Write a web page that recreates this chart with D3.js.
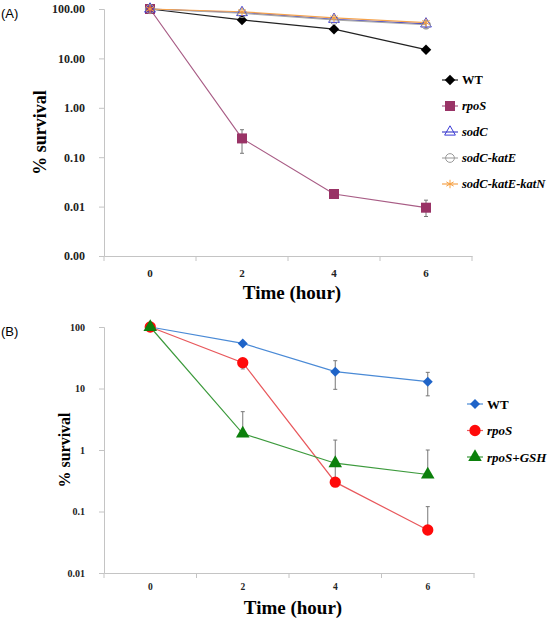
<!DOCTYPE html>
<html>
<head>
<meta charset="utf-8">
<script src="https://cdn.jsdelivr.net/npm/d3@7"></script>
<style>
  body { margin: 0; background: #fff; }
  svg { display: block; }
  text { font-family: "Liberation Serif", "Times New Roman", serif; font-weight: bold; }
  .panel-tag { font-family: "Liberation Sans", Arial, sans-serif; font-weight: normal; }
</style>
</head>
<body>
<svg id="chart" width="558" height="635"></svg>
<script>
// time points (hours), shared by both panels
var hours = ["0", "2", "4", "6"];

// panel A: % survival
var aNames = ["WT", "rpoS", "sodC", "sodC-katE", "sodC-katE-katN"];
var aWT   = [100, 60, 39, 15];
var aRpoS = [100, 0.24, 0.018, 0.0095];
var aSodC = [100, 85, 62, 50];
var aKatE = [100, 82, 60, 48];
var aKatN = [100, 88, 66, 53];
// error bars (low / high), same value = no bar
var aRpoSLo = [100, 0.12, 0.018, 0.0063];
var aRpoSHi = [100, 0.36, 0.018, 0.0135];
var aSodCLo = [100, 85, 62, 41];
var aSodCHi = [100, 85, 62, 58];
var aTicks  = [0.001, 0.01, 0.1, 1, 10, 100];

// panel B: % survival
var bNames = ["WT", "rpoS", "rpoS+GSH"];
var bWT   = [100, 54, 18.8, 12.9];
var bRpoS = [100, 26.3, 0.30, 0.050];
var bGSH  = [100, 1.85, 0.61, 0.40];
var bWTLo   = [100, 54, 9.7, 7.6];
var bWTHi   = [100, 54, 28.3, 18.3];
var bRpoSLo = [100, 20.8, 0.30, 0.050];
var bRpoSHi = [100, 26.3, 0.30, 0.12];
var bGSHLo  = [100, 1.85, 0.30, 0.40];
var bGSHHi  = [100, 4.2, 1.45, 1.0];
var bTicks  = [0.01, 0.1, 1, 10, 100];

var svg = d3.select("#chart");

// make a marker path generator
function marker(kind, size) {
	if (kind == "diamond") return d3.symbol(d3.symbolSquare, size)();
	if (kind == "square") return d3.symbol(d3.symbolSquare, size)();
	if (kind == "triangle") return d3.symbol(d3.symbolTriangle, size)();
	if (kind == "circle") return d3.symbol(d3.symbolCircle, size)();
	if (kind == "star") return d3.symbol(d3.symbolAsterisk, size)();
	return d3.symbol(d3.symbolCross, size)();
}

function drawMarker(g, s, x, y) {
	var rot = s.marker == "diamond" ? " rotate(45)" : "";
	g.append("path")
		.attr("d", marker(s.marker, s.size))
		.attr("transform", "translate(" + x + "," + y + ")" + rot)
		.attr("fill", s.open ? "none" : s.color)
		.attr("stroke", s.open ? s.color : "none")
		.attr("stroke-width", s.open ? 1 : 0);
}

// draw one panel
function drawPanel(p) {
	var x = d3.scaleBand().domain(hours).range([p.left, p.right]);
	var y = d3.scaleLog().domain([p.ticks[0], p.ticks[p.ticks.length - 1]]).range([p.bottom, p.top]);
	var g = svg.append("g");
	var axisColor = "#c4c4c4";

	// y axis
	var ya = g.append("g").attr("transform", "translate(" + p.left + ",0)")
		.call(d3.axisLeft(y).tickValues(p.ticks).tickFormat(d3.format(p.fmt)).tickSize(5).tickPadding(p.ypad));
	ya.select(".domain").attr("stroke", axisColor);
	ya.selectAll(".tick line").attr("stroke", axisColor);
	ya.selectAll(".tick text").attr("fill", "#222").style("font-size", p.yfs + "px")
		.style("font-family", '"Liberation Serif", serif').style("font-weight", "bold");

	// x axis: labels centered in bands, tick marks at band edges
	var xa = g.append("g").attr("transform", "translate(0," + p.bottom + ")")
		.call(d3.axisBottom(x).tickSize(0).tickPadding(p.xpad));
	xa.select(".domain").attr("stroke", axisColor);
	xa.selectAll(".tick text").attr("fill", "#222").style("font-size", p.xfs + "px")
		.style("font-family", '"Liberation Serif", serif').style("font-weight", "bold");
	var edges = hours.map(function (h) { return x(h); }).concat([x(hours[hours.length - 1]) + x.bandwidth()]);
	g.selectAll(".edge").data(edges).enter().append("line")
		.attr("x1", function (d) { return d; }).attr("x2", function (d) { return d; })
		.attr("y1", p.bottom).attr("y2", p.bottom + 5)
		.attr("stroke", axisColor);

	var cx = function (i) { return x(hours[i]) + x.bandwidth() / 2; };

	// lines
	p.series.forEach(function (s) {
		var line = d3.line().x(function (d, i) { return cx(i); }).y(function (d) { return y(d); });
		g.append("path").datum(s.values).attr("d", line)
			.attr("fill", "none").attr("stroke", s.lineColor).attr("stroke-width", s.lw || 1.2);
	});

	// error bars
	p.series.forEach(function (s) {
		if (!s.lo) return;
		s.values.forEach(function (v, i) {
			var lo = s.lo[i], hi = s.hi[i];
			if (lo == v && hi == v) return;
			g.append("line").attr("x1", cx(i)).attr("x2", cx(i))
				.attr("y1", y(lo)).attr("y2", y(hi))
				.attr("stroke", "#777").attr("stroke-width", 1);
			[lo, hi].forEach(function (e) {
				if (e == v) return;
				g.append("line").attr("x1", cx(i) - 2).attr("x2", cx(i) + 2)
					.attr("y1", y(e)).attr("y2", y(e))
					.attr("stroke", "#777").attr("stroke-width", 1);
			});
		});
	});

	// markers
	p.series.forEach(function (s) {
		s.values.forEach(function (v, i) {
			drawMarker(g, s, cx(i), y(v));
		});
	});

	// legend
	p.series.forEach(function (s, i) {
		var ly = p.legY + i * p.legStep;
		g.append("line").attr("x1", p.legX).attr("x2", p.legX + 16)
			.attr("y1", ly).attr("y2", ly).attr("stroke", s.lineColor).attr("stroke-width", 1.2);
		drawMarker(g, s, p.legX + 8, ly);
		g.append("text").attr("x", p.legX + 20).attr("y", ly).attr("dy", "0.35em")
			.style("font-size", p.legfs + "px")
			.style("font-style", s.name == "WT" ? "normal" : "italic")
			.text(s.name);
	});

	// titles
	g.append("text").attr("x", (p.left + p.right) / 2 + 4).attr("y", p.bottom + p.titleDy)
		.attr("text-anchor", "middle").style("font-size", p.titlefs + "px").text("Time (hour)");
	g.append("text")
		.attr("transform", "translate(" + p.ylabX + "," + (p.top + p.bottom) / 2 + ") rotate(-90)")
		.attr("text-anchor", "middle").attr("dy", "0.35em").style("font-size", p.ylabfs + "px").text("% survival");
	g.append("text").attr("class", "panel-tag").attr("x", 1).attr("y", p.top + 4)
		.attr("dy", "0.35em").style("font-size", "13px").text(p.tag);
}

drawPanel({
	tag: "(A)", left: 104, right: 472, top: 9, bottom: 256,
	ticks: aTicks, fmt: ".2f", ypad: 14, xpad: 13, yfs: 12, xfs: 11,
	titleDy: 43, titlefs: 19, ylabX: 40, ylabfs: 18,
	legX: 442, legY: 80, legStep: 26, legfs: 12.5,
	series: [
		{ name: aNames[0], values: aWT, color: "#000", lineColor: "#222", marker: "diamond", size: 55 },
		{ name: aNames[1], values: aRpoS, lo: aRpoSLo, hi: aRpoSHi, color: "#993366", lineColor: "#a85c85", marker: "square", size: 100 },
		{ name: aNames[2], values: aSodC, lo: aSodCLo, hi: aSodCHi, color: "#3b3bd6", lineColor: "#4848c8", marker: "triangle", size: 50, open: true },
		{ name: aNames[3], values: aKatE, color: "#999", lineColor: "#a8a8a8", marker: "circle", size: 60, open: true },
		{ name: aNames[4], values: aKatN, color: "#f7a040", lineColor: "#f5a34d", marker: "star", size: 50, open: true }
	]
});

drawPanel({
	tag: "(B)", left: 104, right: 474, top: 327, bottom: 573,
	ticks: bTicks, fmt: "~g", ypad: 14, xpad: 10, yfs: 10, xfs: 9.5,
	titleDy: 41, titlefs: 19, ylabX: 64, ylabfs: 16,
	legX: 467, legY: 404, legStep: 26.5, legfs: 13,
	series: [
		{ name: bNames[0], values: bWT, lo: bWTLo, hi: bWTHi, color: "#1f64c8", lineColor: "#4a8ad6", marker: "diamond", size: 50 },
		{ name: bNames[1], values: bRpoS, lo: bRpoSLo, hi: bRpoSHi, color: "#ff0a0a", lineColor: "#e8585c", marker: "circle", size: 100 },
		{ name: bNames[2], values: bGSH, lo: bGSHLo, hi: bGSHHi, color: "#0c800c", lineColor: "#3c9a3c", marker: "triangle", size: 80 }
	]
});
</script>
</body>
</html>
